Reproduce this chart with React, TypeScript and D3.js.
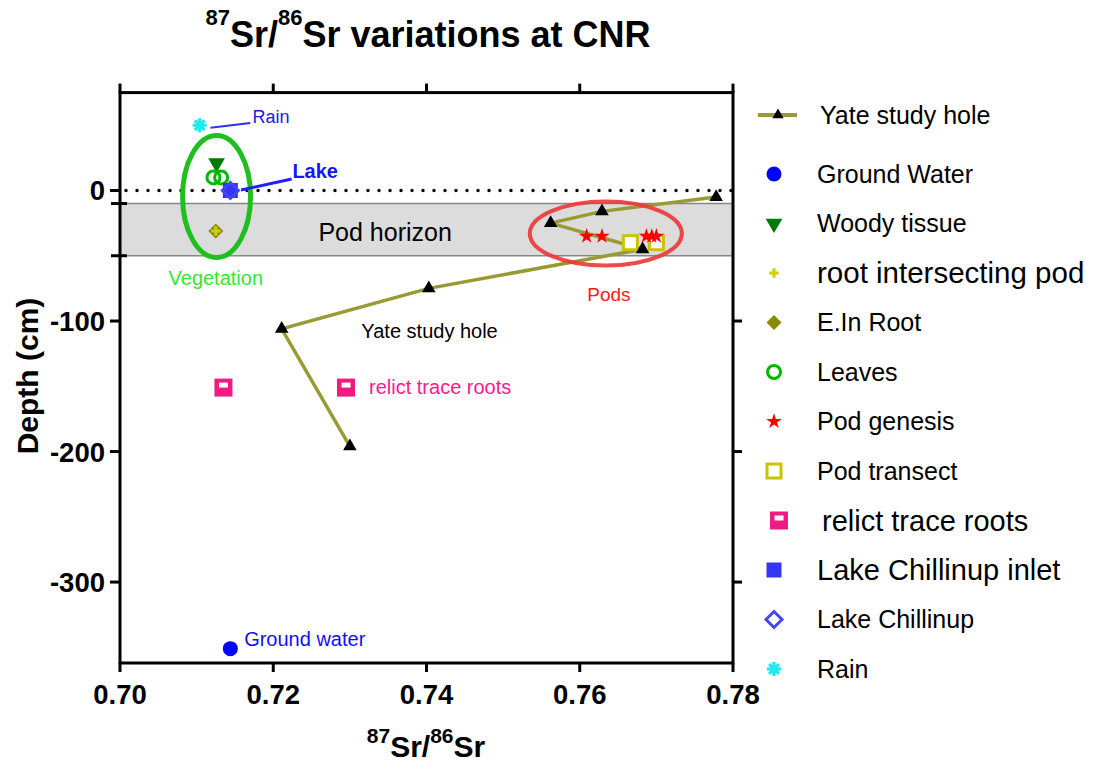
import React from "react";
import * as d3 from "d3";

// axis ticks
const xTicks = [0.7, 0.72, 0.74, 0.76, 0.78];
const yTicks = [0, -100, -200, -300];
const rightTicks = [-100, -200, -300];
const topTicks = [0.72, 0.74, 0.76];
const podHorizon = [-10, -50];

// series (87Sr/86Sr, depth cm)
const yateHole = [
  { x: 0.7778, y: -5 },
  { x: 0.7629, y: -16 },
  { x: 0.7562, y: -25 },
  { x: 0.7682, y: -45 },
  { x: 0.7403, y: -75 },
  { x: 0.7211, y: -106 },
  { x: 0.73, y: -196 },
];
const groundWater = [{ x: 0.7144, y: -351 }];
const woodyTissue = [{ x: 0.7126, y: 21 }];
const rootIntersectingPod = [{ x: 0.7125, y: -31 }];
const eInRoot = [{ x: 0.7125, y: -31 }];
const leaves = [
  { x: 0.7122, y: 10 },
  { x: 0.7132, y: 10 },
];
const podGenesis = [
  { x: 0.7609, y: -35 },
  { x: 0.7629, y: -35 },
  { x: 0.7687, y: -35 },
  { x: 0.7694, y: -35 },
  { x: 0.77, y: -35 },
];
const podTransect = [
  { x: 0.7666, y: -40 },
  { x: 0.77, y: -40 },
];
const relictRoots = [
  { x: 0.7135, y: -151 },
  { x: 0.7295, y: -151 },
];
const lakeInlet = [{ x: 0.7144, y: 0 }];
const lakeChillinup = [{ x: 0.7144, y: 0 }];
const rain = [{ x: 0.7104, y: 50 }];

const legendItems = [
  { label: "Yate study hole", kind: "yate", size: 25 },
  { label: "Ground Water", kind: "circle", size: 25 },
  { label: "Woody tissue", kind: "invTri", size: 25 },
  { label: "root intersecting pod", kind: "plus", size: 29.5 },
  { label: "E.In Root", kind: "diamond", size: 25 },
  { label: "Leaves", kind: "ring", size: 25 },
  { label: "Pod genesis", kind: "star", size: 25 },
  { label: "Pod transect", kind: "openSquare", size: 25 },
  { label: "relict trace roots", kind: "relict", size: 29 },
  { label: "Lake Chillinup inlet", kind: "square", size: 29 },
  { label: "Lake Chillinup", kind: "openDiamond", size: 25 },
  { label: "Rain", kind: "rain", size: 25 },
];

// text annotations placed in data units
const notes = [
  { text: "Rain", x: 0.7173, y: 52, color: "#2020e0", size: 18, weight: 400, anchor: "start" },
  { text: "Lake", x: 0.7225, y: 9.6, color: "#1515ff", size: 20, weight: 700, anchor: "start" },
  { text: "Vegetation", x: 0.7125, y: -72.4, color: "#33e833", size: 20, weight: 400, anchor: "middle" },
  { text: "Pods", x: 0.7638, y: -85, color: "#ff1a1a", size: 19, weight: 400, anchor: "middle" },
  { text: "Yate study hole", x: 0.7315, y: -113, color: "#000", size: 20, weight: 400, anchor: "start" },
  { text: "relict trace roots", x: 0.7325, y: -156, color: "#ff1a8c", size: 20, weight: 400, anchor: "start" },
  { text: "Ground water", x: 0.7162, y: -349, color: "#1010ff", size: 20, weight: 400, anchor: "start" },
  { text: "Pod horizon", x: 0.7346, y: -38.7, color: "#000", size: 25, weight: 400, anchor: "middle" },
];
const leaders = [
  { x1: 0.7118, y1: 48, x2: 0.717, y2: 51.7, color: "#3030f0", w: 2 },
  { x1: 0.7158, y1: 0.4, x2: 0.7224, y2: 8.8, color: "#2020ff", w: 3 },
];

const W = 1096;
const H = 764;
const font = "'Liberation Sans', Arial, Helvetica, sans-serif";

const x = d3.scaleLinear().domain([0.7, 0.78]).range([120, 733]);
const y = d3.scaleLinear().domain([-362, 75]).range([663, 92.6]);

const triPath = d3.symbol(d3.symbolTriangle, 80)();
const triSmall = d3.symbol(d3.symbolTriangle, 55)();
const invTriPath = d3.symbol(d3.symbolTriangle, 120)();
const crossPath = d3.symbol(d3.symbolCross, 50)();
const starPath = d3.symbol(d3.symbolStar, 75)();
const dia = (r: number) => `M0,${-r}L${r},0L0,${r}L${-r},0Z`;

function Marker({ kind, cx, cy }: { kind: string; cx: number; cy: number }) {
  const t = `translate(${cx},${cy})`;
  switch (kind) {
    case "tri":
      return <path d={triPath} transform={t} fill="#000" />;
    case "circle":
      return <circle cx={cx} cy={cy} r={7.5} fill="#0000ff" />;
    case "invTri":
      return <path d={invTriPath} transform={`${t} rotate(180)`} fill="#007a00" />;
    case "plus":
      return <path d={crossPath} transform={t} fill="#d0d000" />;
    case "diamond":
      return <path d={dia(7.5)} transform={t} fill="#8a8a00" />;
    case "ring":
      return <circle cx={cx} cy={cy} r={6.5} fill="none" stroke="#00b800" strokeWidth={3} />;
    case "star":
      return <path d={starPath} transform={t} fill="#ff0000" />;
    case "openSquare":
      return <rect x={cx - 7} y={cy - 7} width={14} height={14} fill="#fff" stroke="#c8c400" strokeWidth={3} />;
    case "relict":
      return (
        <g transform={t}>
          <rect x={-9} y={-9} width={18} height={18} fill="#f01a80" />
          <rect x={-4.5} y={-5} width={9} height={5} fill="#fff" />
        </g>
      );
    case "square":
      return <rect x={cx - 7.5} y={cy - 7.5} width={15} height={15} fill="#3535f5" />;
    case "openDiamond":
      return <path d={dia(8)} transform={t} fill="none" stroke="#4444ff" strokeWidth={3} />;
    case "rain":
      return (
        <g transform={t} stroke="#22e8f0" strokeWidth={3.2}>
          {[0, 45, 90, 135].map((a) => (
            <line key={a} x1={-7} y1={0} x2={7} y2={0} transform={`rotate(${a})`} />
          ))}
          <circle r={4} fill="#22e8f0" stroke="none" />
        </g>
      );
    default:
      return null;
  }
}

function points(data: { x: number; y: number }[], kind: string) {
  return data.map((d, i) => <Marker key={kind + i} kind={kind} cx={x(d.x)} cy={y(d.y)} />);
}

export default function App() {
  const line = d3
    .line<{ x: number; y: number }>()
    .x((d) => x(d.x))
    .y((d) => y(d.y));
  const [x0, x1] = x.range();
  const [yb, yt] = y.range();
  const legendY = (i: number) => (i === 0 ? 115 : 174 + (i - 1) * 49.5);

  return (
    <svg
      width={W}
      height={H}
      style={{ position: "absolute", left: 0, top: 0, background: "#fff" }}
      fontFamily={font}
    >
      {/* title */}
      <text x={428} y={47} textAnchor="middle" fontWeight={700} fontSize={36}>
        <tspan fontSize={22} dy={-22}>87</tspan>
        <tspan dy={22}>Sr/</tspan>
        <tspan fontSize={22} dy={-22}>86</tspan>
        <tspan dy={22}>Sr variations at CNR</tspan>
      </text>

      {/* pod horizon band */}
      <rect x={x0} y={y(podHorizon[0])} width={x1 - x0} height={y(podHorizon[1]) - y(podHorizon[0])} fill="#dcdcdc" />
      {podHorizon.map((v) => (
        <line key={v} x1={x0} x2={x1} y1={y(v)} y2={y(v)} stroke="#888" strokeWidth={1.5} />
      ))}

      {/* zero line */}
      <line x1={x0 + 6} x2={x1} y1={y(0)} y2={y(0)} stroke="#000" strokeWidth={3.5} strokeDasharray="0,11" strokeLinecap="round" />

      {/* frame */}
      <rect x={x0} y={yt} width={x1 - x0} height={yb - yt} fill="none" stroke="#000" strokeWidth={3} />
      {xTicks.map((v) => (
        <line key={"xb" + v} x1={x(v)} x2={x(v)} y1={yb} y2={yb + 9} stroke="#000" strokeWidth={3} />
      ))}
      {[0.7, ...topTicks, 0.78].map((v) => (
        <line key={"xt" + v} x1={x(v)} x2={x(v)} y1={yt} y2={yt - 9} stroke="#000" strokeWidth={3} />
      ))}
      {yTicks.map((v) => (
        <line key={"yl" + v} x1={x0 - 10} x2={x0} y1={y(v)} y2={y(v)} stroke="#000" strokeWidth={3} />
      ))}
      {podHorizon.map((v) => (
        <line key={"ph" + v} x1={x0 - 9} x2={x0 + 7} y1={y(v)} y2={y(v)} stroke="#000" strokeWidth={3} />
      ))}
      {rightTicks.map((v) => (
        <line key={"yr" + v} x1={x1} x2={x1 + 9} y1={y(v)} y2={y(v)} stroke="#000" strokeWidth={3} />
      ))}

      {/* tick labels */}
      {xTicks.map((v) => (
        <text key={"xl" + v} x={x(v)} y={704} textAnchor="middle" fontWeight={700} fontSize={27.5}>
          {d3.format(".2f")(v)}
        </text>
      ))}
      {yTicks.map((v) => (
        <text key={"ylab" + v} x={105} y={y(v) + 10} textAnchor="end" fontWeight={700} fontSize={27.5}>
          {v}
        </text>
      ))}

      {/* axis titles */}
      <text x={426} y={757} textAnchor="middle" fontWeight={700} fontSize={30}>
        <tspan fontSize={21} dy={-14}>87</tspan>
        <tspan dy={14}>Sr/</tspan>
        <tspan fontSize={21} dy={-14}>86</tspan>
        <tspan dy={14}>Sr</tspan>
      </text>
      <text transform="translate(38,376) rotate(-90)" textAnchor="middle" fontWeight={700} fontSize={30}>
        Depth (cm)
      </text>

      {/* Yate study hole */}
      <path d={line(yateHole) ?? ""} fill="none" stroke="#9a9a35" strokeWidth={3.5} />

      {points(groundWater, "circle")}
      {points(woodyTissue, "invTri")}
      {points(eInRoot, "diamond")}
      {points(rootIntersectingPod, "plus")}
      {points(leaves, "ring")}
      {points(podTransect, "openSquare")}
      {points(podGenesis, "star")}
      {points(relictRoots, "relict")}
      {points(lakeInlet, "square")}
      {points(lakeChillinup, "openDiamond")}
      {points(rain, "rain")}
      {points(yateHole, "tri")}

      {/* highlight ellipses */}
      <ellipse cx={x(0.7126)} cy={y(-4.6)} rx={34} ry={61} fill="none" stroke="#1fbf1f" strokeWidth={5} />
      <ellipse cx={x(0.7634)} cy={y(-33)} rx={76} ry={32} fill="none" stroke="#ee3535" strokeOpacity={0.9} strokeWidth={4} />

      {/* leader lines and notes */}
      {leaders.map((l, i) => (
        <line key={"ld" + i} x1={x(l.x1)} y1={y(l.y1)} x2={x(l.x2)} y2={y(l.y2)} stroke={l.color} strokeWidth={l.w} />
      ))}
      {notes.map((n) => (
        <text
          key={n.text}
          x={x(n.x)}
          y={y(n.y)}
          fill={n.color}
          fontSize={n.size}
          fontWeight={n.weight}
          textAnchor={n.anchor}
        >
          {n.text}
        </text>
      ))}

      {/* legend */}
      {legendItems.map((it, i) => {
        const ly = legendY(i);
        return (
          <g key={it.label}>
            {it.kind === "yate" ? (
              <g>
                <line x1={758} x2={797} y1={ly} y2={ly} stroke="#9a9a35" strokeWidth={4} />
                <path d={triSmall} transform={`translate(778,${ly})`} fill="#000" />
              </g>
            ) : (
              <Marker kind={it.kind} cx={it.kind === "relict" ? 779 : 774} cy={ly} />
            )}
            <text
              x={it.kind === "relict" ? 822 : it.kind === "yate" ? 820 : 817}
              y={ly}
              dy="0.35em"
              fontSize={it.size}
            >
              {it.label}
            </text>
          </g>
        );
      })}
    </svg>
  );
}
